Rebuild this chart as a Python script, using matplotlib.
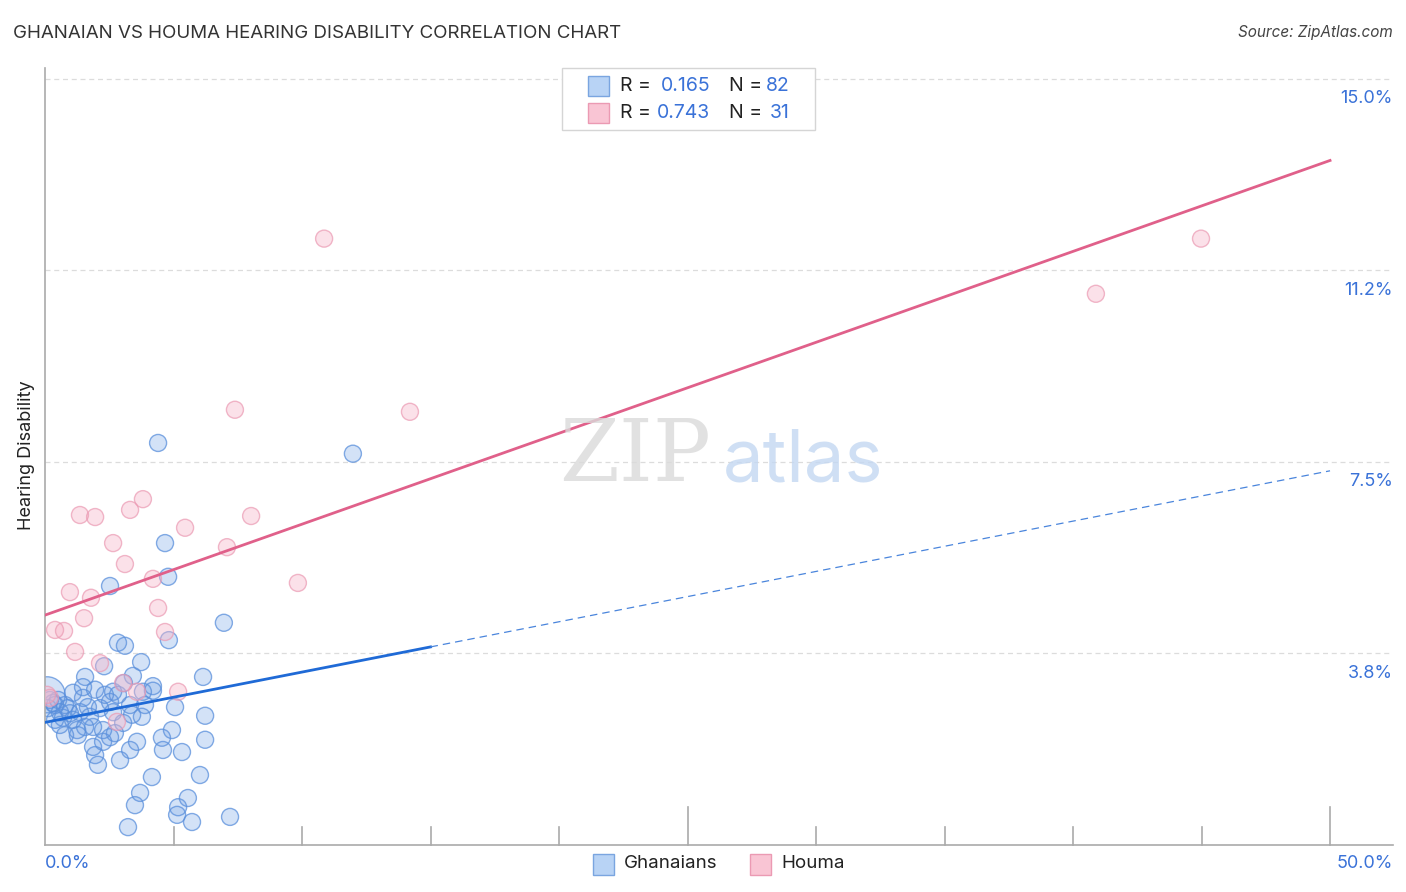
import numpy as np
import matplotlib
matplotlib.use('Agg')
import matplotlib.pyplot as plt
import matplotlib.transforms as mtransforms
from matplotlib.patches import Rectangle

plt.rcParams['font.family'] = ['Inter', 'DejaVu Sans']

# Ghanaians (x = Ghanaian %, y = hearing disability %)
blue_x = [4.40, 11.98, 4.67, 2.53, 4.79, 6.96, 2.84, 3.11, 4.82, 2.30,
          3.74, 3.42, 6.15, 1.56, 4.20, 4.20, 1.95, 2.65, 3.07, 1.48,
          1.09, 2.33, 2.53, 2.14, 1.67, 1.36, 0.97, 0.58, 0.39, 0.70,
          1.09, 1.56, 1.25, 1.28, 0.78, 1.87, 2.26, 2.72, 3.04, 2.65,
          3.39, 3.77, 3.31, 5.06, 6.23, 6.23, 4.94, 4.55, 4.59, 5.33,
          3.58, 3.31, 1.95, 2.06, 2.92, 2.53, 2.26, 1.87, 6.03, 4.16,
          3.70, 3.50, 5.56, 5.18, 5.14, 5.72, 7.20, 3.23, 0.31, 0.19,
          0.39, 0.12, 0.51, 0.08, 0.78, 0.89, 1.75, 3.81, 2.84, 3.89,
          0.58, 1.48]
blue_y = [7.87, 7.66, 5.91, 5.07, 5.25, 4.35, 3.96, 3.90, 4.01, 3.50,
          3.58, 3.31, 3.29, 3.29, 3.11, 3.02, 3.04, 3.00, 3.17, 3.09,
          2.98, 2.94, 2.80, 2.68, 2.70, 2.60, 2.58, 2.60, 2.45, 2.49,
          2.45, 2.31, 2.25, 2.15, 2.15, 2.31, 2.25, 2.19, 2.39, 2.60,
          2.55, 2.51, 2.74, 2.70, 2.53, 2.06, 2.25, 2.10, 1.86, 1.82,
          2.02, 1.86, 1.76, 1.57, 1.66, 2.11, 2.02, 1.92, 1.37, 1.33,
          1.02, 0.78, 0.92, 0.74, 0.59, 0.45, 0.55, 0.35, 2.78, 2.84,
          2.74, 2.68, 2.84, 2.94, 2.74, 2.68, 2.51, 3.00, 2.94, 2.74,
          2.35, 2.88]
blue_w = [1] * 82
blue_w[73] = 4.5

# Houma
pink_x = [10.86, 44.98, 40.89, 7.39, 14.20, 3.81, 1.36, 1.95, 3.31, 8.02,
          5.45, 2.65, 7.08, 3.11, 4.20, 9.84, 0.97, 1.79, 4.40, 1.52,
          0.39, 0.74, 4.67, 1.17, 2.14, 3.04, 3.58, 5.18, 0.19, 2.80, 0.08]
pink_y = [11.87, 11.87, 10.79, 8.52, 8.48, 6.77, 6.46, 6.42, 6.56, 6.44,
          6.21, 5.91, 5.83, 5.50, 5.21, 5.13, 4.95, 4.84, 4.64, 4.44,
          4.21, 4.19, 4.17, 3.78, 3.56, 3.17, 3.00, 3.00, 2.88, 2.41, 2.94]

# trend lines (intercept, slope per x %)
blue_fit = (2.40, 0.0985)
pink_fit = (4.50, 0.178)

y_ticks = [3.75, 7.5, 11.25, 15.0]
y_labels = ['3.8%', '7.5%', '11.2%', '15.0%']
x_ticks = [0, 5, 10, 15, 20, 25, 30, 35, 40, 45, 50]

W, H = 1406, 892
fig = plt.figure(figsize=(W / 100, H / 100), dpi=100)
ax = fig.add_axes([45 / W, 47 / H, (1393 - 45) / W, (845 - 68) / H])
ax.set_xlim(0, 52.45)
ax.set_ylim(0, 15.21)

blue_c = '#5b90dc'
pink_c = '#eb9ab3'
tick_c = '#3a72d8'

for y in y_ticks:
    ax.axhline(y, color='#dcdcdc', lw=0.9, ls=(0, (4, 3)), zorder=0)

ax.scatter(blue_x, blue_y, s=[150 * w for w in blue_w], facecolor='#9ec0ee',
           edgecolor='none', alpha=0.45, zorder=2)
ax.scatter(blue_x, blue_y, s=[150 * w for w in blue_w], facecolor='none',
           edgecolor=blue_c, lw=1.0, alpha=0.75, zorder=2)
ax.scatter(pink_x, pink_y, s=150, facecolor='#f7b8cb', edgecolor='none',
           alpha=0.42, zorder=3)
ax.scatter(pink_x, pink_y, s=150, facecolor='none', edgecolor=pink_c,
           lw=1.0, alpha=0.7, zorder=3)

xs = np.array([0, 15])
ax.plot(xs, blue_fit[0] + blue_fit[1] * xs, color='#1f6ad6', lw=2, zorder=4)
xs = np.array([15, 50])
ax.plot(xs, blue_fit[0] + blue_fit[1] * xs, color='#4a85dc', lw=0.9,
        ls=(0, (6, 4)), zorder=4)
xs = np.array([0, 50])
ax.plot(xs, pink_fit[0] + pink_fit[1] * xs, color='#e0608a', lw=2, zorder=4)

for s in ['top', 'right']:
    ax.spines[s].set_visible(False)
for s in ['left', 'bottom']:
    ax.spines[s].set_color('#aaaaaa')
    ax.spines[s].set_linewidth(1.2)
ax.set_xticks([])
ax.set_yticks([])

trans = mtransforms.blended_transform_factory(ax.transData, ax.transAxes)
for x in x_ticks[1:]:
    h = 0.049 if x in (25, 50) else 0.023
    ax.plot([x, x], [0, h], color='#aaaaaa', lw=1.2, transform=trans,
            clip_on=False)

ty = mtransforms.blended_transform_factory(ax.transAxes, ax.transData)
for y, lab in zip(y_ticks, y_labels):
    ax.annotate(lab, xy=(1.0, y), xycoords=ty, xytext=(0, -20),
                textcoords='offset pixels', ha='right', va='center',
                fontsize=13, color=tick_c)

fig.text(45 / W, 1 - 863 / H, '0.0%', ha='left', va='center', fontsize=13,
         color=tick_c)
fig.text(1393 / W, 1 - 863 / H, '50.0%', ha='right', va='center',
         fontsize=13, color=tick_c)

fig.text(13 / W, 1 - 33 / H, 'GHANAIAN VS HOUMA HEARING DISABILITY CORRELATION CHART',
         ha='left', va='center', fontsize=13.5, color='#333333')
fig.text(1393 / W, 1 - 33 / H, 'Source: ZipAtlas.com', ha='right',
         va='center', fontsize=11, color='#444444', style='italic')
fig.text(27 / W, 1 - 455 / H, 'Hearing Disability', rotation=90,
         ha='center', va='center', fontsize=13, color='#222222')

# watermark
fig.text(635 / W, 1 - 457 / H, 'ZIP', ha='center', va='center',
         fontsize=62, color='#dadada', family='DejaVu Serif', alpha=0.8)
fig.text(803 / W, 1 - 462 / H, 'atlas', ha='center', va='center',
         fontsize=52, color='#c4d8f2', alpha=0.8)

# top legend
fig.patches.append(Rectangle((562 / W, 1 - 130 / H), 253 / W, 62 / H,
                             transform=fig.transFigure, facecolor='white',
                             edgecolor='#d5d5d5', lw=1, zorder=5))
rows = [('0.165', '82', '#b8d3f5', '#7aa5e0', 86),
        ('0.743', '31', '#f9c5d4', '#eb9ab3', 113)]
for r, n, fc, ec, yy in rows:
    fig.patches.append(Rectangle((588 / W, 1 - (yy + 10) / H), 21 / W, 20 / H,
                                 transform=fig.transFigure, facecolor=fc,
                                 edgecolor=ec, lw=1, zorder=6))
    fig.text(620 / W, 1 - yy / H, 'R = ', ha='left', va='center',
             fontsize=14, color='#222222', zorder=7)
    fig.text(710 / W, 1 - yy / H, r, ha='right', va='center',
             fontsize=14, color=tick_c, zorder=7)
    fig.text(729 / W, 1 - yy / H, 'N = ', ha='left', va='center',
             fontsize=14, color='#222222', zorder=7)
    fig.text(790 / W, 1 - yy / H, n, ha='right', va='center',
             fontsize=14, color=tick_c, zorder=7)

# bottom legend
for lab, fc, ec, x0 in [('Ghanaians', '#b8d3f5', '#7aa5e0', 593),
                         ('Houma', '#f9c5d4', '#eb9ab3', 750)]:
    fig.patches.append(Rectangle((x0 / W, 1 - 875 / H), 21 / W, 21 / H,
                                 transform=fig.transFigure, facecolor=fc,
                                 edgecolor=ec, lw=1))
    fig.text((x0 + 31) / W, 1 - 864 / H, lab, ha='left', va='center',
             fontsize=13.5, color='#222222')

fig.savefig('out.png', dpi=100)
